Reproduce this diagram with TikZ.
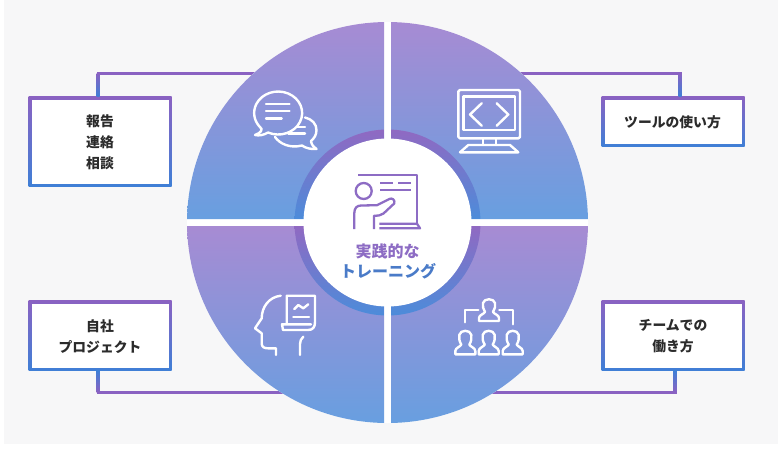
\documentclass[tikz,border=0pt]{standalone}
\usepackage{fontspec}
\setmainfont{Noto Sans CJK JP}
\definecolor{bgg}{HTML}{F7F7F8}
\definecolor{qtop}{HTML}{A78BD3}
\definecolor{qbot}{HTML}{689FE0}
\definecolor{rtop}{HTML}{9069C2}
\definecolor{rbot}{HTML}{4C8CDA}
\definecolor{lpur}{HTML}{8A62C2}
\definecolor{lblu}{HTML}{3F7FD6}
\definecolor{ipur}{HTML}{8D6CC4}
\definecolor{tblu}{HTML}{4A7BC8}
\definecolor{ink}{HTML}{2B2B2B}
\tikzset{
  quad/.style={top color=qtop,bottom color=qbot,draw=none},
  ringq/.style={top color=rtop,bottom color=rbot,draw=none},
  conn/.style={draw=lpur,line width=3pt,line join=miter},
  connup/.style={top color=lpur,bottom color=lblu,draw=none},
  conndown/.style={top color=lblu,bottom color=lpur,draw=none},
  icon/.style={draw=white,line width=2.4pt,line cap=round,line join=round},
  picon/.style={draw=ipur,line width=2.3pt,line cap=butt,line join=round},
  boxn/.style={rectangle,inner sep=0pt,minimum width=143pt,
    path picture={
      \shade[top color=lpur,bottom color=lblu] (path picture bounding box.north west) rectangle (path picture bounding box.south east);
      \fill[white] ([shift={(3pt,-3pt)}]path picture bounding box.north west) rectangle ([shift={(-3pt,3pt)}]path picture bounding box.south east);
    }},
  boxt/.style={inner sep=0pt,align=center,text=ink,font=\fontsize{13.8}{20.8}\selectfont\bfseries},
  ctext/.style={inner sep=0pt,font=\fontsize{16}{16}\selectfont\bfseries}
}
\newcommand{\persona}[3]{%
  \draw[icon,shift={(#1,#2)},yscale=#3] (-10,0) -- (-10,-3) .. controls (-10,-6) and (-5,-7) .. (-4,-9)
   .. controls (-6,-12) and (-6.5,-15) .. (-6,-18) .. controls (-5,-23) and (5,-23) .. (6,-18)
   .. controls (6.5,-15) and (6,-12) .. (4,-9) .. controls (5,-7) and (10,-6) .. (10,-3) -- (10,0) -- cycle;}
\begin{document}
\begin{tikzpicture}[x=1pt,y=-1pt]
\useasboundingbox (0,0) rectangle (778,451);
\fill[bgg] (4,0) rectangle (778,444);
% boxes
\node[boxn,minimum height=90pt] (b1) at (100,141.5) {};
\node[boxn,minimum height=50pt] (b2) at (673,121.5) {};
\node[boxn,minimum height=70pt] (b3) at (100,335.5) {};
\node[boxn,minimum height=70pt] (b4) at (673,335.5) {};
\node[boxt] (l1) at (100,142.5) {報告\\連絡\\相談};
\node[boxt] (l2) at (672.5,122) {ツールの使い方};
\node[boxt] (l3) at (100,336.5) {自社\\プロジェクト};
\node[boxt] (l4) at (673,336.5) {チームでの\\働き方};
% connector free ends
\coordinate (c1) at (270,73);
\coordinate (c2) at (510,73);
\coordinate (c3) at (300,392);
\coordinate (c4) at (480,392);
\draw[conn] ([xshift=-2pt]b1.north) |- (c1);
\draw[conn] ([xshift=7pt]b2.north) |- (c2);
\draw[conn] ([xshift=-2pt]b3.south) |- (c3);
\draw[conn] ([xshift=2pt]b4.south) |- (c4);
\shade[connup] ([xshift=-3.5pt]b1.north) rectangle ([xshift=-0.5pt]b1.north |- c1);
\shade[connup] ([xshift=5.5pt]b2.north) rectangle ([xshift=8.5pt]b2.north |- c2);
\shade[conndown] ([xshift=-3.5pt]b3.south) rectangle ([xshift=-0.5pt]b3.south |- c3);
\shade[conndown] ([xshift=0.5pt]b4.south) rectangle ([xshift=3.5pt]b4.south |- c4);
% disc quadrants
\coordinate (o) at (387.5,222.5);
\fill[white] (o) circle[radius=200.5];
\shade[quad] (384,219) -- ([shift={(o)}]-91:200.5) arc[start angle=-91,end angle=-179,radius=200.5] -- cycle;
\shade[quad] (391,219) -- ([shift={(o)}]-89:200.5) arc[start angle=-89,end angle=-1,radius=200.5] -- cycle;
\shade[quad] (384,226) -- ([shift={(o)}]91:200.5) arc[start angle=91,end angle=179,radius=200.5] -- cycle;
\shade[quad] (391,226) -- ([shift={(o)}]89:200.5) arc[start angle=89,end angle=1,radius=200.5] -- cycle;
% ring
\shade[ringq] (384,219) -- ([shift={(o)}]-92.2:93) arc[start angle=-92.2,end angle=-177.8,radius=93] -- cycle;
\shade[ringq] (391,219) -- ([shift={(o)}]-87.8:93) arc[start angle=-87.8,end angle=-2.2,radius=93] -- cycle;
\shade[ringq] (384,226) -- ([shift={(o)}]92.2:93) arc[start angle=92.2,end angle=177.8,radius=93] -- cycle;
\shade[ringq] (391,226) -- ([shift={(o)}]87.8:93) arc[start angle=87.8,end angle=2.2,radius=93] -- cycle;
\fill[white] (o) circle[radius=84];
% centre text
\node[ctext,text=ipur] (t1) at (387.5,251.5) {実践的な};
\node[ctext,text=tblu] (t2) at (388,271.5) {トレーニング};
% centre icon
\draw[picon] (358.3,175) -- (417.3,175) -- (417.3,223.5);
\draw[picon] (380,182.7) -- (393.3,182.7) (398.3,182.7) -- (410.7,182.7) (380,190) -- (410.7,190);
\draw[picon] (363.7,191) circle[radius=8];
\draw[picon] (354.3,229) -- (354.3,213) .. controls (354.3,208) and (357,205.5) .. (361,205.5) -- (377,205.2) -- (389.3,199)
  .. controls (392,197.5) and (395.5,200) .. (394.2,203.5) -- (383.5,213.5) .. controls (381,215.5) and (378,215.7) .. (374,215.7) -- (374,229);
\draw[picon] (379.3,223.7) -- (417,223.7) -- (420,228.3) -- (379.3,228.3);
% speech bubbles
\draw[icon] (268,132.5) arc[start angle=115,end angle=-221,x radius=24,y radius=21.5]
  .. controls (263.5,129) and (261,133) .. (255,135) .. controls (259,136) and (264,135) .. (268,132.5);
\draw[icon] (266,104) -- (289.5,104) (266,110.7) -- (289.5,110.7) (266,118.3) -- (281.7,118.3);
\draw[icon] (288.3,133.3) -- (305,133.3) (296.7,126.7) -- (305,126.7);
\draw[icon] (305,117.5) .. controls (312,119) and (316.5,124) .. (316.5,130) .. controls (316.5,135) and (314,138.5) .. (311,141)
  .. controls (311.5,145) and (314,147.5) .. (316.5,149) .. controls (311,149.5) and (305.5,148) .. (302,145.5)
  .. controls (290,148.5) and (280,144) .. (275,137);
% monitor
\draw[icon,rounded corners=1.5pt] (458.3,90) rectangle (520,138.3);
\draw[icon] (463.5,96.5) rectangle (515,130);
\draw[icon] (481.7,103.3) -- (470,114.5) -- (481.7,125.7) (496.7,103.3) -- (508.3,114.5) -- (496.7,125.7);
\draw[icon] (482.7,138.3) -- (482.7,145) (496,138.3) -- (496,145);
\draw[icon] (468.3,145) -- (510,145) -- (518.3,152.3) -- (460,152.3) -- cycle;
% head and document
\draw[icon] (280.7,295.7) .. controls (269,297) and (261.7,307) .. (261.7,318.3) -- (255,328.3) -- (261.7,333.3) -- (261.7,343.3)
  .. controls (261.7,347) and (264,348.3) .. (268,348.3) -- (276,348.3) -- (276,355);
\draw[icon] (300,355) -- (300,344) .. controls (300,341) and (301,339) .. (303.3,336.7);
\draw[icon] (286.7,324) -- (286.7,295.7) -- (315,295.7) -- (315,322) .. controls (315,327) and (313,330) .. (308,330) -- (283,330) -- (282,324.3) -- (311,324.3);
\draw[icon] (294.3,309) -- (298.3,305) -- (303.3,308.3) -- (308.3,304.3);
\draw[icon] (293.3,316.7) -- (309,316.7);
% organisation
\persona{489}{321}{1}
\persona{465.3}{354.3}{1.08}
\persona{488.7}{354.3}{1.08}
\persona{512.7}{354.3}{1.08}
\draw[icon] (465,322.3) -- (465,310) -- (478.3,310) (499.3,310) -- (512.7,310) -- (512.7,324.3);
\end{tikzpicture}
\end{document}
